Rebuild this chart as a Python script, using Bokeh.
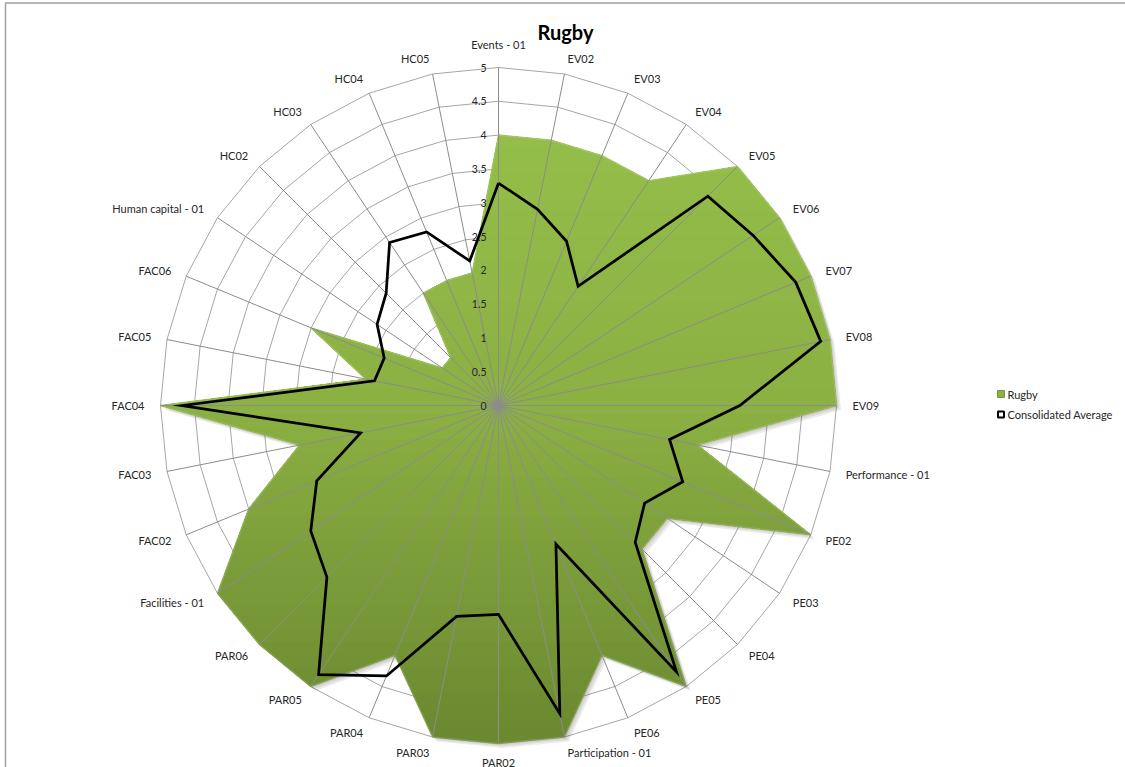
import numpy as np
from bokeh.plotting import figure
from bokeh.models import Range1d
from bokeh.core.properties import value
from bokeh.embed import file_html
from bokeh.resources import INLINE

# ---- data -------------------------------------------------------------
categories = [
    "Events - 01", "EV02", "EV03", "EV04", "EV05", "EV06", "EV07", "EV08", "EV09",
    "Performance - 01", "PE02", "PE03", "PE04", "PE05", "PE06",
    "Participation - 01", "PAR02", "PAR03", "PAR04", "PAR05", "PAR06",
    "Facilities - 01", "FAC02", "FAC03", "FAC04", "FAC05", "FAC06",
    "Human capital - 01", "HC02", "HC03", "HC04", "HC05",
]
rugby = [
    4, 4, 4, 4, 5, 5, 5, 5, 5,
    3, 5, 3, 3, 5, 4,
    5, 5, 5, 4, 5, 5,
    5, 4, 3, 5, 2, 3,
    1, 1, 2, 2, 2,
]
consolidated_average = [
    3.29, 2.96, 2.63, 2.12, 4.38, 4.53, 4.76, 4.86, 3.57,
    2.58, 2.95, 2.60, 2.86, 4.74, 2.22,
    4.65, 3.09, 3.18, 4.33, 4.79, 3.59,
    3.34, 2.91, 2.08, 4.68, 1.87, 1.83,
    2.16, 2.35, 2.90, 2.78, 2.18,
]
tick_values = [0, 0.5, 1, 1.5, 2, 2.5, 3, 3.5, 4, 4.5, 5]
tick_labels = ["0", "0.5", "1", "1.5", "2", "2.5", "3", "3.5", "4", "4.5", "5"]
series_names = ["Rugby", "Consolidated Average"]
title_text = "Rugby"

# ---- geometry ---------------------------------------------------------
W, H = 1125, 767
CX, CY = 498.0, 405.0        # pixel position of the radar centre
PX = 67.6                    # pixels per value unit
RMAX = tick_values[-1]
FONT = "Lato"
FSIZE = "11px"
TXT = "#262626"


def dx(px_):
    return px_ / PX


def to_data(xp, yp):
    return (xp - CX) / PX, (CY - yp) / PX


n = len(categories)
theta = np.pi / 2 - 2 * np.pi * np.arange(n) / n
ux, uy = np.cos(theta), np.sin(theta)

p = figure(
    width=W, height=H,
    x_range=Range1d(-CX / PX, (W - CX) / PX),
    y_range=Range1d(-(H - CY) / PX, CY / PX),
    output_backend="svg", toolbar_location=None,
    min_border=0, x_axis_location=None, y_axis_location=None,
)
p.xgrid.visible = False
p.ygrid.visible = False
p.outline_line_color = None
p.background_fill_color = "white"
p.border_fill_color = "white"

# chart-area frame (top and left edges)
fx0, fy0 = to_data(5, 2.5)
fx1, fy1 = to_data(W + 5, H + 5)
p.line([fx0, fx0, fx1], [fy1, fy0, fy0], line_color="#a0a0a0", line_width=1.5)

# ring gridlines
ring_xs, ring_ys = [], []
for v in tick_values[1:]:
    ring_xs.append(list(v * ux) + [v * ux[0]])
    ring_ys.append(list(v * uy) + [v * uy[0]])
p.multi_line(ring_xs, ring_ys, line_color="#a6a6a6", line_width=1)

# ---- Rugby area with soft shadow and vertical gradient -----------------
gx = np.array(rugby, dtype=float) * ux
gy = np.array(rugby, dtype=float) * uy

for k, a in enumerate([0.10, 0.10, 0.10]):
    off = dx(1.5 * (k + 1))
    p.patch(gx + off, gy - off, fill_color="#404040", fill_alpha=a, line_color=None)


def clip_above(poly, y0):
    out = []
    for i in range(len(poly)):
        cur, prev = poly[i], poly[i - 1]
        cin, pin = cur[1] >= y0, prev[1] >= y0
        if cin != pin:
            t = (y0 - prev[1]) / (cur[1] - prev[1])
            out.append((prev[0] + t * (cur[0] - prev[0]), y0))
        if cin:
            out.append(cur)
    return out


stops_px = [67.0, 405.0, 743.0]
stops_rgb = [(150, 193, 75), (139, 176, 67), (106, 136, 48)]


def grad_rgb(y_data):
    yp = CY - y_data * PX
    return [np.interp(yp, stops_px, [c[i] for c in stops_rgb]) for i in range(3)]


def hexcol(rgb):
    return "#%02x%02x%02x" % tuple(int(round(min(255, c))) for c in rgb)


poly = list(zip(gx, gy))
ymin, ymax = gy.min(), gy.max()
nb = 48
band_xs, band_ys, band_cols = [], [], []
for k in range(nb):
    y0 = ymin + k * (ymax - ymin) / nb
    part = poly if k == 0 else clip_above(poly, y0)
    if len(part) < 3:
        continue
    band_xs.append([q[0] for q in part])
    band_ys.append([q[1] for q in part])
    band_cols.append(hexcol(grad_rgb(y0 + 0.5 * (ymax - ymin) / nb)))
p.patches(band_xs, band_ys, fill_color=band_cols, line_color=None)

# bevel rim: each edge a little lighter than the fill beneath it
rim_xs, rim_ys, rim_cols = [], [], []
for i in range(n):
    j = (i + 1) % n
    rim_xs.append([gx[i], gx[j]])
    rim_ys.append([gy[i], gy[j]])
    c = grad_rgb(0.5 * (gy[i] + gy[j]))
    rim_cols.append(hexcol([ch + 0.35 * (255 - ch) * 0.5 for ch in c]))
p.multi_line(rim_xs, rim_ys, line_color=rim_cols, line_width=1.5, line_alpha=0.8)

# spokes
p.segment(np.zeros(n), np.zeros(n), RMAX * ux, RMAX * uy,
          line_color="#8c8c8c", line_width=1)

# value axis labels
p.text(x=[-dx(12)] * len(tick_values), y=tick_values, text=tick_labels,
       text_align="right", text_baseline="middle",
       text_font=value(FONT), text_font_size="10.5px", text_color=TXT)

# Consolidated Average line
ax_ = np.array(consolidated_average) * ux
ay_ = np.array(consolidated_average) * uy
p.line(list(ax_) + [ax_[0]], list(ay_) + [ay_[0]], line_color="black",
       line_width=2.75, line_join="miter")

# ---- category labels ---------------------------------------------------
groups = {}
for i, lab in enumerate(categories):
    if abs(ux[i]) < 0.05:
        if uy[i] > 0:
            r, al, bl = RMAX + dx(17), "center", "bottom"
        else:
            r, al, bl = RMAX + dx(12), "center", "top"
    else:
        r, al, bl = RMAX + dx(16), ("left" if ux[i] > 0 else "right"), "middle"
    g = groups.setdefault((al, bl), ([], [], []))
    g[0].append(r * ux[i])
    g[1].append(r * uy[i])
    g[2].append(lab)
for (al, bl), (xs, ys, ts) in groups.items():
    p.text(x=xs, y=ys, text=ts, text_align=al, text_baseline=bl,
           text_font=value(FONT), text_font_size=FSIZE, text_color=TXT)

# ---- legend -------------------------------------------------------------
lx, ly1 = to_data(1000.5, 393.5)
_, ly2 = to_data(1000.5, 414.0)
p.scatter([lx], [ly1], marker="square", size=7, fill_color="#8cb043",
          line_color="#76963a", line_width=1)
p.scatter([lx], [ly2], marker="square", size=6, fill_color="white",
          line_color="black", line_width=2)
tx, _ = to_data(1007, 0)
p.text(x=[tx, tx], y=[ly1, ly2], text=series_names, text_align="left",
       text_baseline="middle", text_font=value(FONT), text_font_size=FSIZE,
       text_color=TXT)

# ---- title ---------------------------------------------------------------
ttx, tty = to_data(565, 31.5)
p.text(x=[ttx], y=[tty], text=[title_text], text_align="center",
       text_baseline="alphabetic", text_font=value(FONT), text_font_size="20px",
       text_font_style="bold", text_color="black")

open("out.html", "w").write(file_html(p, INLINE))
